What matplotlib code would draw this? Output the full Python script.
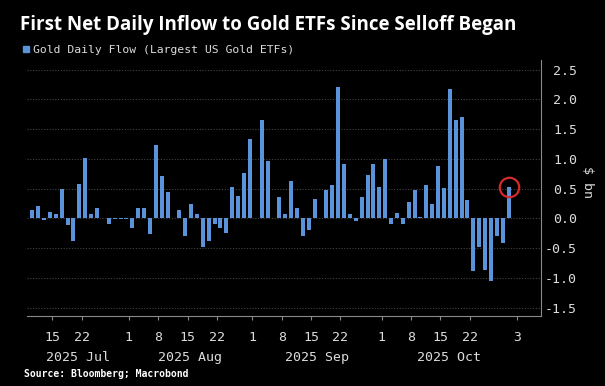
import matplotlib
matplotlib.use('Agg')
import matplotlib.pyplot as plt
from matplotlib.patches import Rectangle
import numpy as np
import pandas as pd

# ---------------- data ----------------
start_date = '2025-07-10'
end_date = '2025-10-31'
flows = [0.14, 0.20, -0.03, 0.10, 0.07, 0.49, -0.11, -0.38, 0.57, 1.01,
         0.07, 0.18, 0.01, -0.10, -0.01, -0.01, -0.01, -0.16, 0.18, 0.17,
         -0.27, 1.23, 0.71, 0.45, 0.01, 0.14, -0.30, 0.24, 0.07, -0.48,
         -0.38, -0.10, -0.16, -0.25, 0.52, 0.38, 0.76, 1.34, 0.01, 1.65,
         0.96, 0.01, 0.36, 0.08, 0.63, 0.18, -0.30, -0.19, 0.32, 0.00,
         0.48, 0.56, 2.21, 0.91, 0.08, -0.05, 0.36, 0.72, 0.91, 0.53,
         0.99, -0.10, 0.09, -0.09, 0.27, 0.48, 0.02, 0.56, 0.24, 0.88,
         0.51, 2.18, 1.66, 1.71, 0.31, -0.89, -0.48, -0.86, -1.05, -0.29,
         -0.42, 0.53]
tick_dates = ['2025-07-15', '2025-07-22', '2025-08-01', '2025-08-08', '2025-08-15',
              '2025-08-22', '2025-09-01', '2025-09-08', '2025-09-15', '2025-09-22',
              '2025-10-01', '2025-10-08', '2025-10-15', '2025-10-22', '2025-11-03']
tick_labels = ['15', '22', '1', '8', '15', '22', '1', '8', '15', '22',
               '1', '8', '15', '22', '3']
month_starts = ['2025-08-01', '2025-09-01', '2025-10-01', '2025-11-03']
month_labels = ['2025 Jul', '2025 Aug', '2025 Sep', '2025 Oct']
y_ticks = [-1.5, -1.0, -0.5, 0.0, 0.5, 1.0, 1.5, 2.0, 2.5]
y_tick_labels = ['-1.5', '-1.0', '-0.5', '0.0', '0.5', '1.0', '1.5', '2.0', '2.5']

title = 'First Net Daily Inflow to Gold ETFs Since Selloff Began'
series_name = 'Gold Daily Flow (Largest US Gold ETFs)'
source = 'Source: Bloomberg; Macrobond'
unit = '$ bn'

# ---------------- style ----------------
BG = '#000000'
BAR = '#5b93db'
TXT = '#dcdcdc'
GRID = '#444444'
SPINE = '#8a8a8a'
MONO = 'DejaVu Sans Mono'

W, H = 605, 386
fig = plt.figure(figsize=(W / 100, H / 100), dpi=100, facecolor=BG)
ax = fig.add_axes([27 / W, 1 - 316 / H, (541 - 27) / W, (316 - 60) / H], facecolor=BG)

dates = pd.bdate_range(start_date, end_date)
x = np.busday_count(start_date, dates.values.astype('datetime64[D]'))
ax.bar(x, flows, width=0.68, color=BAR, zorder=2)

# highlight last bar
ax.plot([x[-1]], [flows[-1]], marker='o', ms=14, mfc='none', mec='#d62a2a', mew=1.6,
        zorder=3, clip_on=False)

xlim_left = -0.9
ax.set_xlim(xlim_left, 86.5)
ax.set_ylim(-1.64, 2.66)

off = 0.4
tpos = np.busday_count(start_date, np.array(tick_dates, dtype='datetime64[D]')) + off
ax.set_xticks(tpos)
ax.set_xticklabels(tick_labels)
mpos = np.busday_count(start_date, np.array(month_starts, dtype='datetime64[D]')) + off
bounds = np.concatenate([[xlim_left], mpos])
mcent = (bounds[:-1] + bounds[1:]) / 2
ax.set_xticks(mcent, minor=True)
ax.set_xticklabels(month_labels, minor=True)
ax.tick_params(axis='x', which='major', length=3, color=SPINE, pad=8,
               labelsize=9.5, labelcolor=TXT)
ax.tick_params(axis='x', which='minor', length=0, pad=25.5, labelsize=9.5, labelcolor=TXT)
for lab in ax.get_xticklabels(which='both'):
    lab.set_family(MONO)

ax.yaxis.tick_right()
ax.set_yticks(y_ticks)
ax.set_yticklabels(y_tick_labels)
ax.tick_params(axis='y', length=0, pad=26, labelsize=9.5, labelcolor=TXT)
for lab in ax.get_yticklabels():
    lab.set_ha('right')
    lab.set_family(MONO)

ax.yaxis.grid(True, color=GRID, linestyle=(0, (1, 1.5)), linewidth=0.8)
ax.set_axisbelow(True)
for s in ['left', 'top']:
    ax.spines[s].set_visible(False)
for s in ['right', 'bottom']:
    ax.spines[s].set_color(SPINE)
    ax.spines[s].set_linewidth(0.8)

fig.text(588 / W, 1 - 182 / H, unit, rotation=-90, ha='center', va='center',
         fontsize=9.5, color=TXT, family=MONO)

# title / legend / source
fig.text(20 / W, 1 - 30 / H, title, fontsize=13.5, fontweight='bold', color='white',
         family='Open Sans', ha='left', va='baseline')
fig.patches.append(Rectangle((23 / W, 1 - 52 / H), 6.5 / W, 6.5 / H,
                             transform=fig.transFigure, color=BAR))
fig.text(33 / W, 1 - 53 / H, series_name, fontsize=8.2, color=TXT, family=MONO,
         ha='left', va='baseline')
fig.text(24 / W, 1 - 377 / H, source, fontsize=7, fontweight='bold', color='white',
         family=MONO, ha='left', va='baseline')

fig.savefig('out.png', dpi=100, facecolor=BG)
